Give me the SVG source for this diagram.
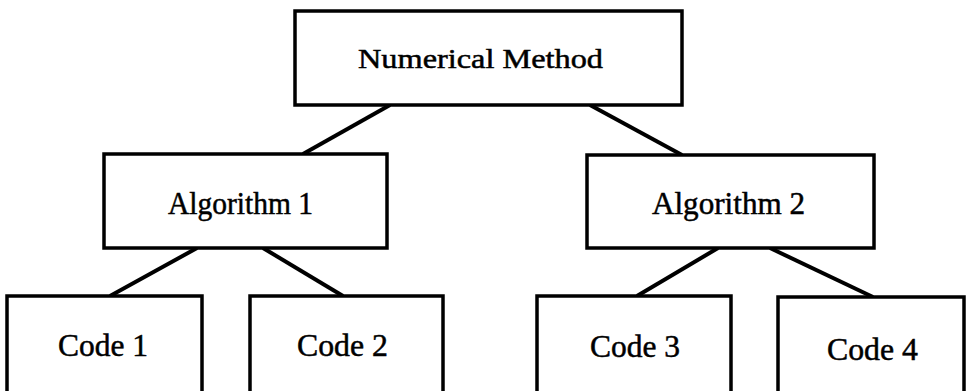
<svg xmlns="http://www.w3.org/2000/svg" width="966" height="391" viewBox="0 0 966 391">
<style>
.box{fill:#fff;stroke:#000;stroke-width:3.5}
.lbl{font-family:"Liberation Serif","Times New Roman",serif;fill:#000;stroke:#000;stroke-width:0.5}
.edge{stroke:#000;stroke-width:4;fill:none}
</style>
<rect width="966" height="391" fill="#fff"/>
<g id="connectors">
<line class="edge" x1="390" y1="105" x2="303" y2="154"/>
<line class="edge" x1="590" y1="105" x2="682" y2="155"/>
<line class="edge" x1="197" y1="248" x2="110" y2="296"/>
<line class="edge" x1="263" y1="248" x2="343" y2="296"/>
<line class="edge" x1="718" y1="248" x2="637" y2="296"/>
<line class="edge" x1="770" y1="248" x2="873" y2="297"/>
</g>
<g id="numerical-method">
<rect class="box" x="295" y="11" width="387" height="94"/>
<text class="lbl" x="358" y="68" font-size="28" textLength="245" lengthAdjust="spacingAndGlyphs">Numerical Method</text>
</g>
<g id="algorithm-1">
<rect class="box" x="104" y="154" width="283" height="94"/>
<text class="lbl" x="168" y="214" font-size="31" textLength="145" lengthAdjust="spacingAndGlyphs">Algorithm 1</text>
</g>
<g id="algorithm-2">
<rect class="box" x="587" y="155" width="287" height="93"/>
<text class="lbl" x="652" y="214" font-size="31" textLength="153" lengthAdjust="spacingAndGlyphs">Algorithm 2</text>
</g>
<g id="code-1">
<rect class="box" x="7" y="296" width="195" height="110"/>
<text class="lbl" x="58" y="356" font-size="32" textLength="90" lengthAdjust="spacingAndGlyphs">Code 1</text>
</g>
<g id="code-2">
<rect class="box" x="250" y="296" width="193" height="110"/>
<text class="lbl" x="297" y="356" font-size="32" textLength="91" lengthAdjust="spacingAndGlyphs">Code 2</text>
</g>
<g id="code-3">
<rect class="box" x="537" y="296" width="194" height="110"/>
<text class="lbl" x="590" y="357" font-size="32" textLength="90" lengthAdjust="spacingAndGlyphs">Code 3</text>
</g>
<g id="code-4">
<rect class="box" x="778" y="297" width="186" height="110"/>
<text class="lbl" x="827" y="360" font-size="32" textLength="91" lengthAdjust="spacingAndGlyphs">Code 4</text>
</g>
</svg>
